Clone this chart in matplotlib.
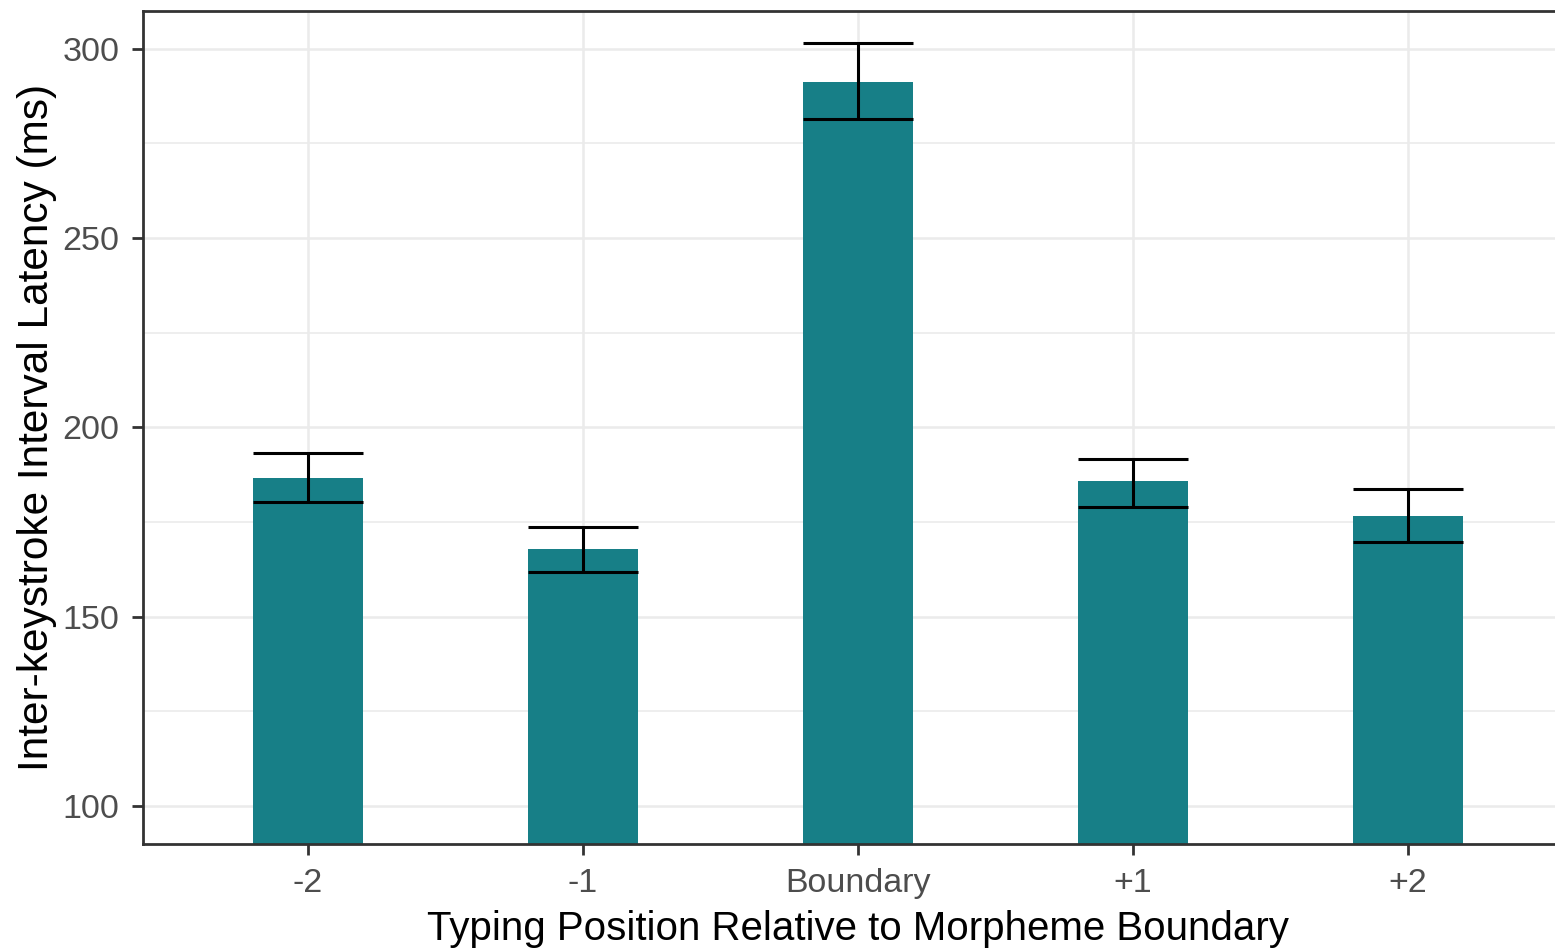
import matplotlib
matplotlib.use("Agg")
import matplotlib.pyplot as plt
import numpy as np
from matplotlib.ticker import MultipleLocator

categories = ["-2", "-1", "Boundary", "+1", "+2"]
means = [186.5, 168.0, 291.3, 185.9, 176.7]
err_low = [180.4, 161.7, 281.3, 179.1, 169.8]
err_high = [193.3, 173.8, 301.6, 191.7, 183.6]

plt.rcParams['font.family'] = ['Liberation Sans', 'DejaVu Sans']

W, H = 1555, 952
fig = plt.figure(figsize=(W / 100, H / 100), dpi=100)
left_px, right_px, top_px, bot_px = 143, 1573, 10.7, 844
ax = fig.add_axes([left_px / W, (H - bot_px) / H, (right_px - left_px) / W, (bot_px - top_px) / H])

x = np.arange(1, len(categories) + 1)
bar_w = 0.4
ax.bar(x, means, width=bar_w, color="#177F87", zorder=2)

lo = np.array(err_low)
hi = np.array(err_high)
ax.vlines(x, lo, hi, color="black", linewidth=2.2, zorder=3)
ax.hlines(lo, x - bar_w / 2, x + bar_w / 2, color="black", linewidth=2.2, zorder=3)
ax.hlines(hi, x - bar_w / 2, x + bar_w / 2, color="black", linewidth=2.2, zorder=3)

ax.set_xlim(0.4, 5.6)
ax.set_ylim(90, 310)
ax.set_xticks(x)
ax.set_xticklabels(categories)
ax.yaxis.set_major_locator(MultipleLocator(50))
ax.yaxis.set_minor_locator(MultipleLocator(25))

ax.grid(which="major", color="#EBEBEB", linewidth=1.8, zorder=0)
ax.grid(which="minor", axis="y", color="#EBEBEB", linewidth=1.2, zorder=0)
ax.set_axisbelow(True)

for s in ax.spines.values():
    s.set_color("#333333")
    s.set_linewidth(2.0)

ax.tick_params(axis="both", which="major", color="#333333", width=2.0, length=8,
               labelsize=24.5, labelcolor="#4D4D4D")
ax.tick_params(axis="y", which="major", pad=9)
ax.tick_params(axis="x", which="major", pad=9)
ax.tick_params(which="minor", length=0)

ax.set_xlabel("Typing Position Relative to Morpheme Boundary", fontsize=29, color="black", labelpad=8)
ax.set_ylabel("Inter-keystroke Interval Latency (ms)", fontsize=30.5, color="black", labelpad=4)

fig.savefig("out.png", dpi=100)
